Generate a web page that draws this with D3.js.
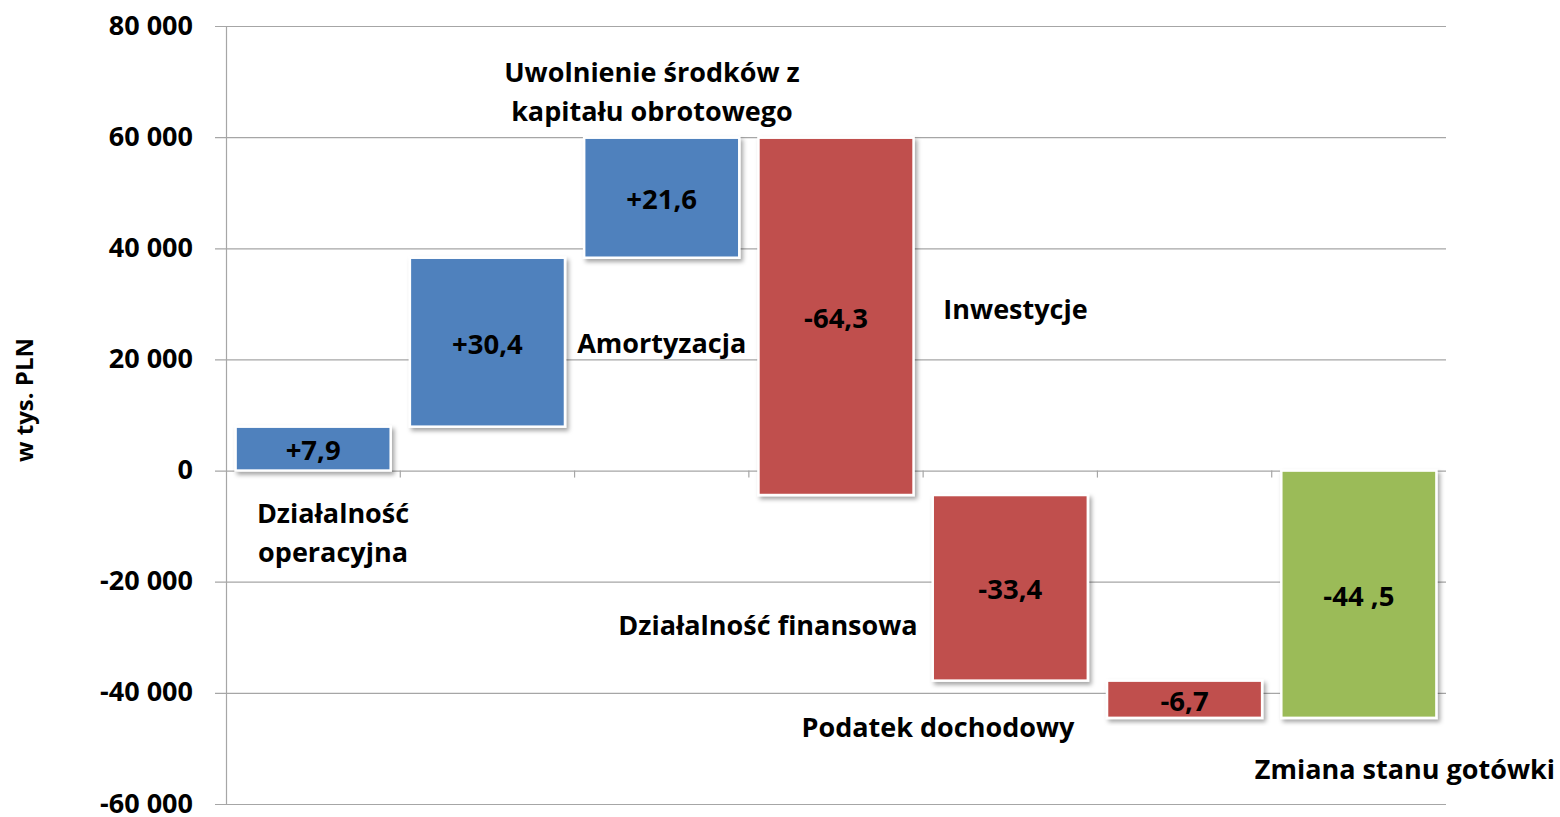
<!DOCTYPE html>
<html lang="pl">
  <head>
    <meta charset="utf-8">
    <title>Przepływy pieniężne</title>
    <script src="https://cdn.jsdelivr.net/npm/d3@7"></script>
    <style>
      body { margin: 0; background: #fff; }
      text { font-family: "Open Sans", Lato, sans-serif; font-weight: 700; fill: #000; }
    </style>
  </head>
  <body>
    <script>
      // categories and changes (w tys. PLN)
      var categories = ['op', 'amort', 'kapital', 'inwest', 'finans', 'podatek', 'zmiana']
      var deltas = [7900, 30400, 21600, -64300, -33400, -6700]
      var total = -44500
      var valueLabels = ['+7,9', '+30,4', '+21,6', '-64,3', '-33,4', '-6,7', '-44 ,5']
      var catNames = [
        ['Działalność', 'operacyjna'],
        ['Amortyzacja'],
        ['Uwolnienie środków z', 'kapitału obrotowego'],
        ['Inwestycje'],
        ['Działalność finansowa'],
        ['Podatek dochodowy'],
        ['Zmiana stanu gotówki']
      ]
      // where each category caption sits: band position and y value
      var captionBand = [0.114, 2.0, 1.944, 4.03, 2.61, 3.585, 6.264]
      var captionY = [-11300, 22800, 68200, 29000, -27800, -46300, -53800]
      var yTicks = [-60000, -40000, -20000, 0, 20000, 40000, 60000, 80000]

      var colors = { up: '#4f81bd', down: '#c0504d', total: '#9bbb59' }

      // build waterfall segments
      var bars = []
      var run = 0
      deltas.forEach(function(d, i) {
        bars.push({ cat: categories[i], y0: run, y1: run + d, kind: d >= 0 ? 'up' : 'down', label: valueLabels[i] })
        run += d
      })
      bars.push({ cat: categories[6], y0: 0, y1: total, kind: 'total', label: valueLabels[6] })

      var W = 1560, H = 817
      var mLeft = 226, mRight = 1446, mTop = 26, mBottom = 804

      var svg = d3.select('body').append('svg').attr('width', W).attr('height', H)

      svg.append('defs').append('filter').attr('id', 'shadow')
        .attr('x', '-10%').attr('y', '-10%').attr('width', '130%').attr('height', '130%')
        .append('feDropShadow')
        .attr('dx', 2.5).attr('dy', 3).attr('stdDeviation', 2)
        .attr('flood-color', '#000').attr('flood-opacity', 0.35)

      var x = d3.scaleBand().domain(categories).range([mLeft, mRight]).paddingInner(0.11).paddingOuter(0.055)
      var xb = d3.scaleLinear().domain([0, categories.length]).range([mLeft, mRight])
      var y = d3.scaleLinear().domain([-60000, 80000]).range([mBottom, mTop])

      var fmt = d3.formatLocale({ decimal: ',', thousands: ' ', grouping: [3], currency: ['', ' zł'], minus: '-' }).format(',d')

      // gridlines + tick labels
      var gy = svg.append('g').attr('transform', 'translate(' + mRight + ',0)')
        .call(d3.axisLeft(y).tickValues(yTicks).tickSize(mRight - mLeft + 11).tickFormat(fmt))
      gy.select('.domain').remove()
      gy.selectAll('.tick line').attr('stroke', '#a6a6a6').attr('stroke-width', 1.2)
      gy.selectAll('.tick text').attr('fill', '#000').style('font-size', '27px')
        .attr('font-family', null).attr('x', -(mRight - 193)).attr('dy', '0.3em')

      // vertical axis
      svg.append('line').attr('x1', mLeft + 0.5).attr('x2', mLeft + 0.5).attr('y1', mTop).attr('y2', mBottom)
        .attr('stroke', '#a6a6a6').attr('stroke-width', 1.2)

      // category ticks on zero line
      svg.append('g').selectAll('line').data(d3.range(1, categories.length)).enter().append('line')
        .attr('x1', function(d) { return xb(d) }).attr('x2', function(d) { return xb(d) })
        .attr('y1', y(0)).attr('y2', y(0) + 7)
        .attr('stroke', '#a6a6a6').attr('stroke-width', 1.2)

      // axis title
      svg.append('text')
        .attr('transform', 'translate(33,400) rotate(-90)')
        .attr('text-anchor', 'middle')
        .style('font-size', '24px')
        .text('w tys. PLN')

      // bars
      svg.append('g').selectAll('rect').data(bars).enter().append('rect')
        .attr('x', function(d) { return x(d.cat) })
        .attr('width', x.bandwidth())
        .attr('y', function(d) { return y(Math.max(d.y0, d.y1)) })
        .attr('height', function(d) { return Math.abs(y(d.y0) - y(d.y1)) })
        .attr('fill', function(d) { return colors[d.kind] })
        .attr('stroke', '#fff').attr('stroke-width', 2.5)
        .attr('filter', 'url(#shadow)')

      svg.append('g').selectAll('text').data(bars).enter().append('text')
        .attr('x', function(d) { return x(d.cat) + x.bandwidth() / 2 })
        .attr('y', function(d) { return (y(d.y0) + y(d.y1)) / 2 + 2 })
        .attr('dy', '0.35em').attr('text-anchor', 'middle')
        .style('font-size', '27.5px')
        .text(function(d) { return d.label })

      // category captions
      var cap = svg.append('g').selectAll('text').data(catNames).enter().append('text')
        .attr('text-anchor', 'middle')
        .attr('transform', function(d, i) { return 'translate(' + xb(captionBand[i] + 0.5) + ',' + y(captionY[i]) + ')' })
        .style('font-size', '27px')
      cap.selectAll('tspan').data(function(d) { return d }).enter().append('tspan')
        .attr('x', 0)
        .attr('y', function(d, i, nodes) { return (i - (nodes.length - 1) / 2) * 39 })
        .attr('dy', '0.35em')
        .text(function(d) { return d })
    </script>
  </body>
</html>
